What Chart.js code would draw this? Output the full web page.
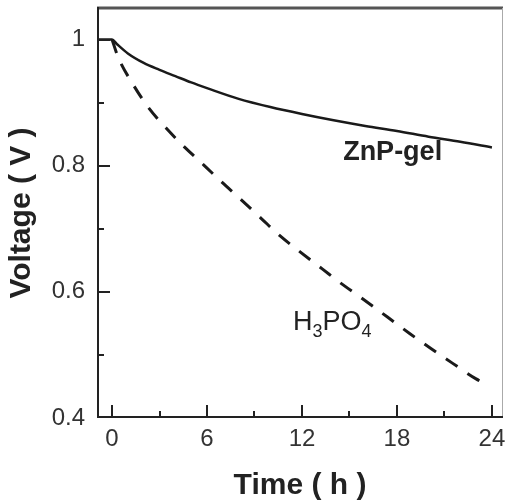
<!DOCTYPE html>
<html>
<head>
<meta charset="utf-8">
<script src="https://cdn.jsdelivr.net/npm/chart.js@4.4.1/dist/chart.umd.min.js"></script>
<style>
    html, body { margin: 0; padding: 0; background: #fff; }
    #wrap { width: 507px; height: 502px; }
</style>
</head>
<body>
<div id="wrap"><canvas id="voltageChart" width="507" height="502"></canvas></div>
<script>
// ZnP-gel (solid line)
const gelTime = [-0.95, 0, 0.3, 1, 2, 3, 4, 5, 6, 8, 10, 12, 14, 16, 18, 20, 22, 24];
const gelVoltage = [1, 1, 0.993, 0.978, 0.963, 0.952, 0.942, 0.932, 0.923, 0.906, 0.893, 0.882, 0.872, 0.863, 0.855, 0.846, 0.838, 0.829];

// H3PO4 (dashed line)
const acidTime = [0, 0.4, 1.3, 2.3, 3.4, 4.6, 5.8, 6.8, 8.2, 9.4, 10.6, 11.9, 13.3, 14.6, 16, 17.4, 18.8, 20.1, 21.5, 23, 23.6];
const acidVoltage = [1, 0.971, 0.930, 0.892, 0.860, 0.829, 0.801, 0.777, 0.745, 0.717, 0.689, 0.663, 0.636, 0.611, 0.586, 0.560, 0.534, 0.511, 0.487, 0.462, 0.454];

const timeTicks = [0, 6, 12, 18, 24];
const timeMinor = [3, 9, 15, 21];
const voltTicks = [0.4, 0.6, 0.8, 1];
const voltMinor = [0.5, 0.7, 0.9];

const FONT = '"Liberation Sans", Arial, Helvetica, sans-serif';
const INK = '#222';

function toPoints(xs, ys) {
    return xs.map((x, i) => ({ x: x, y: ys[i] }));
}

// frame, inward ticks and curve labels
const framePlugin = {
    id: 'frame',
    afterDatasetsDraw(chart) {
        const { ctx, chartArea: a, scales } = chart;
        const xs = scales.x, ys = scales.y;
        ctx.save();
        ctx.lineCap = 'butt';

        // top + right (lighter)
        ctx.strokeStyle = '#555';
        ctx.lineWidth = 3;
        ctx.beginPath();
        ctx.moveTo(a.left, a.top);
        ctx.lineTo(a.right, a.top);
        ctx.stroke();
        ctx.strokeStyle = '#aaa';
        ctx.lineWidth = 1;
        ctx.beginPath();
        ctx.moveTo(a.right - 0.5, a.top);
        ctx.lineTo(a.right - 0.5, a.bottom);
        ctx.stroke();

        // left + bottom axes
        ctx.strokeStyle = INK;
        ctx.lineWidth = 2;
        ctx.beginPath();
        ctx.moveTo(a.left + 1, a.top - 1);
        ctx.lineTo(a.left + 1, a.bottom - 1);
        ctx.lineTo(a.right, a.bottom - 1);
        ctx.stroke();

        // ticks pointing inward
        timeTicks.concat(timeMinor).forEach(v => {
            const px = Math.round(xs.getPixelForValue(v));
            const len = timeTicks.includes(v) ? 12 : 6;
            ctx.beginPath();
            ctx.moveTo(px, a.bottom - 1);
            ctx.lineTo(px, a.bottom - 1 - len);
            ctx.stroke();
        });
        voltTicks.concat(voltMinor).forEach(v => {
            if (v === 0.4) return;
            const py = Math.round(ys.getPixelForValue(v));
            const len = voltTicks.includes(v) ? 12 : 6;
            ctx.beginPath();
            ctx.moveTo(a.left + 1, py);
            ctx.lineTo(a.left + 1 + len, py);
            ctx.stroke();
        });

        // curve labels
        ctx.fillStyle = INK;
        ctx.textBaseline = 'alphabetic';
        ctx.textAlign = 'left';
        ctx.font = 'bold 27px ' + FONT;
        ctx.fillText('ZnP-gel', xs.getPixelForValue(14.6), ys.getPixelForValue(0.8085));

        let x = xs.getPixelForValue(11.43);
        const y = ys.getPixelForValue(0.54);
        const parts = [['H', 27, 0], ['3', 18, 7], ['PO', 27, 0], ['4', 18, 7]];
        parts.forEach(([t, size, dy]) => {
            ctx.font = size + 'px ' + FONT;
            ctx.fillText(t, x, y + dy);
            x += ctx.measureText(t).width;
        });
        ctx.restore();
    }
};

new Chart(document.getElementById('voltageChart'), {
    type: 'line',
    data: {
        datasets: [
            {
                label: 'ZnP-gel',
                data: toPoints(gelTime, gelVoltage),
                borderColor: '#1a1a1a',
                borderWidth: 2.5,
                pointRadius: 0,
                cubicInterpolationMode: 'monotone',
                fill: false
            },
            {
                label: 'H3PO4',
                data: toPoints(acidTime, acidVoltage),
                borderColor: '#1a1a1a',
                borderWidth: 3,
                borderDash: [14, 12],
                pointRadius: 0,
                cubicInterpolationMode: 'monotone',
                fill: false
            }
        ]
    },
    options: {
        responsive: false,
        animation: false,
        layout: { padding: { top: 8, right: 4, left: 0, bottom: 0 } },
        plugins: { legend: { display: false }, tooltip: { enabled: false } },
        scales: {
            x: {
                type: 'linear',
                min: -0.95,
                max: 24.7,
                grid: { display: false, drawTicks: false },
                border: { display: false },
                afterBuildTicks: s => { s.ticks = timeTicks.map(v => ({ value: v })); },
                afterFit: s => {
                    s.height = 84;
                    s.paddingLeft = 0;
                    s.paddingRight = 0;
                },
                ticks: {
                    color: '#333',
                    padding: 7,
                    maxRotation: 0,
                    font: { family: FONT, size: 24 },
                    callback: v => String(v)
                },
                title: {
                    display: true,
                    text: 'Time ( h )',
                    color: INK,
                    padding: { top: 0, bottom: 1 },
                    font: { family: FONT, size: 30, weight: 'bold', lineHeight: 1 }
                }
            },
            y: {
                type: 'linear',
                min: 0.4,
                max: 1.05,
                grid: { display: false, drawTicks: false },
                border: { display: false },
                afterBuildTicks: s => { s.ticks = voltTicks.map(v => ({ value: v })); },
                afterFit: s => {
                    s.width = 97;
                    s.paddingTop = 0;
                    s.paddingBottom = 0;
                },
                ticks: {
                    color: '#333',
                    padding: 12,
                    font: { family: FONT, size: 24 },
                    callback: v => String(v)
                },
                title: {
                    display: true,
                    text: 'Voltage ( V )',
                    color: INK,
                    padding: { top: 7, bottom: 0 },
                    font: { family: FONT, size: 30, weight: 'bold', lineHeight: 1 }
                }
            }
        }
    },
    plugins: [framePlugin]
});
</script>
</body>
</html>
